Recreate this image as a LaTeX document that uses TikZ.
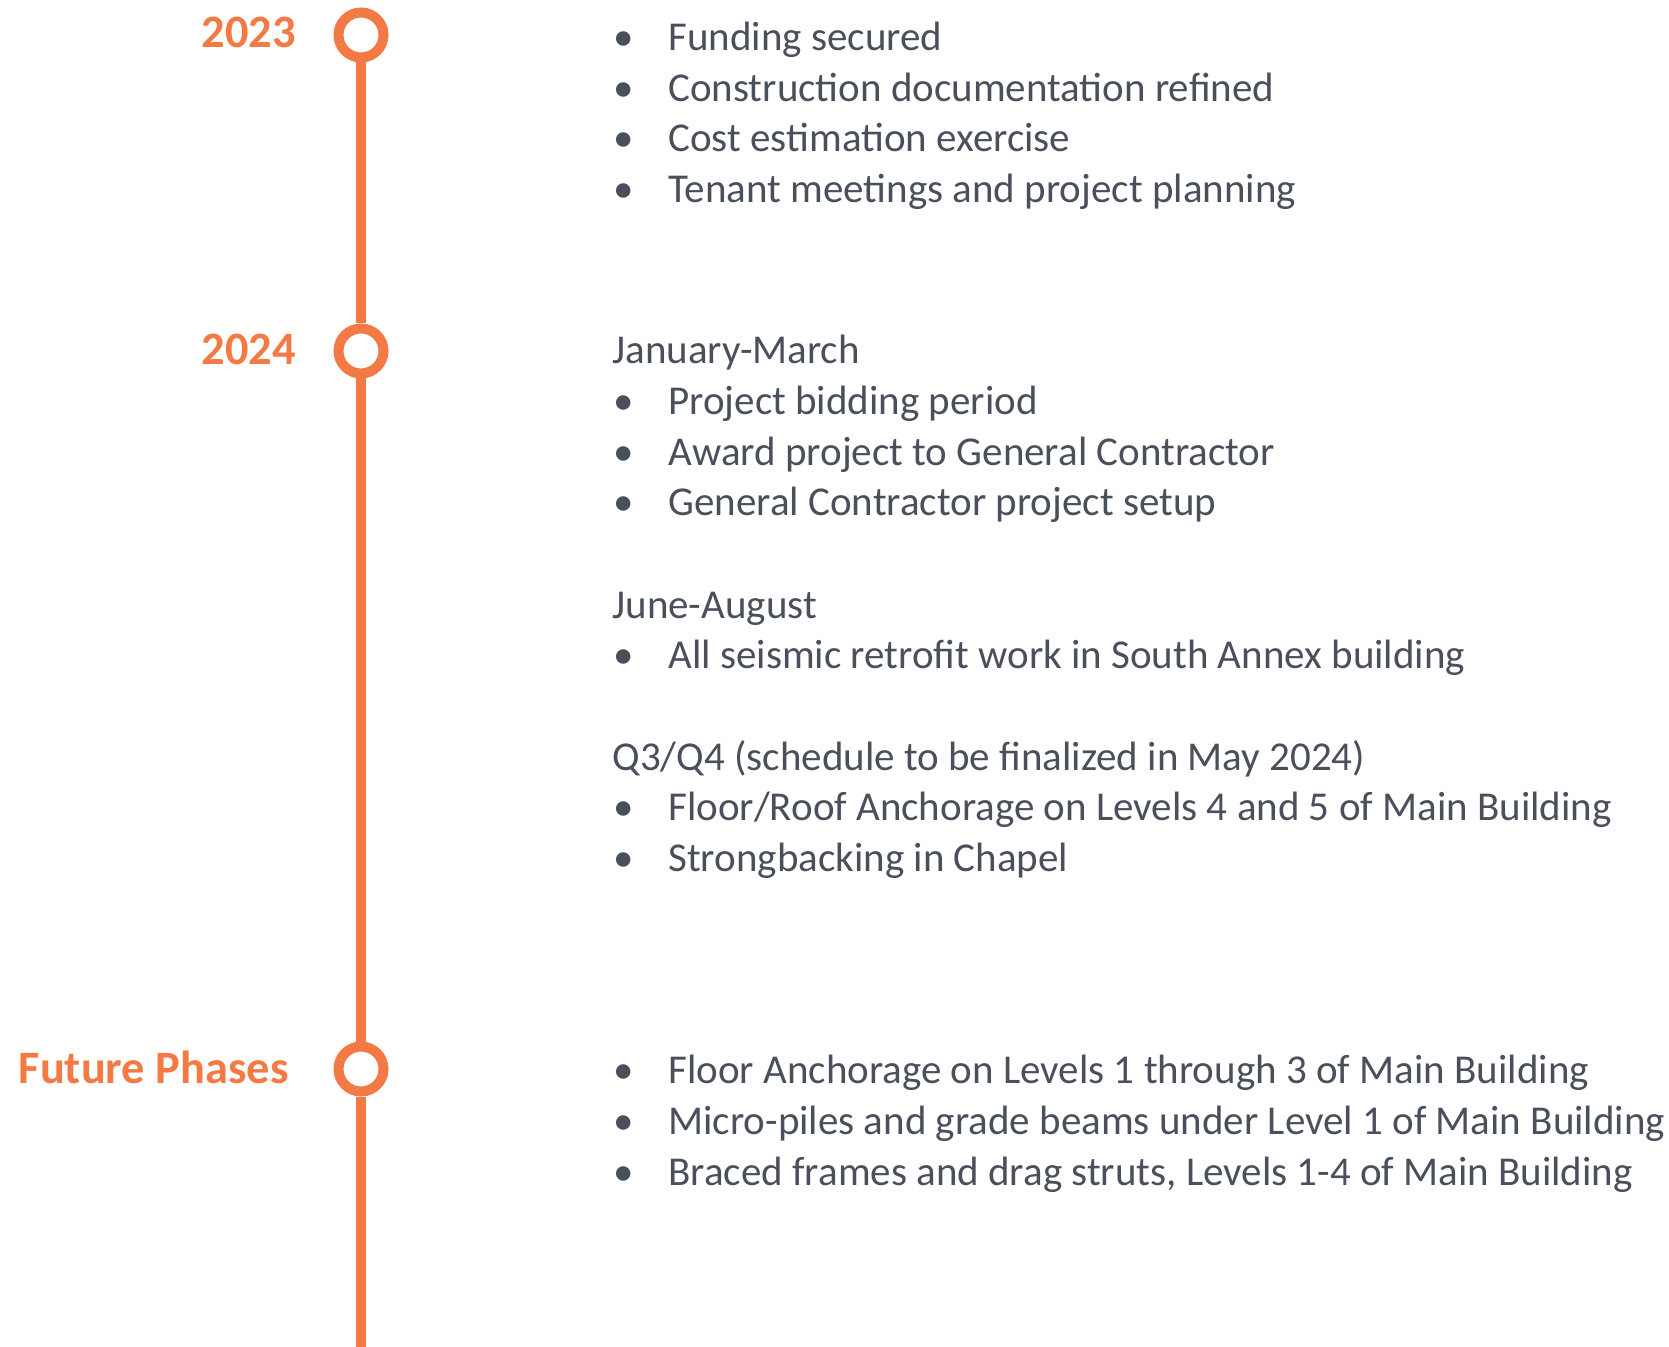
\documentclass[tikz,border=0pt]{standalone}
\usepackage{fontspec}
\setmainfont{Carlito}
\usetikzlibrary{positioning}
\definecolor{tlorange}{RGB}{243,122,69}
\definecolor{tlgray}{RGB}{74,80,91}
\tikzset{
	milestone/.style={circle, draw=tlorange, line width=5pt, fill=white,
		minimum size=22.5pt, inner sep=0pt},
	year/.style={anchor=base east, inner sep=0pt, text=tlorange,
		font=\fontsize{23.2}{27}\selectfont\bfseries},
	item/.style={anchor=base west, inner sep=0pt, text=tlgray,
		font=\fontsize{20.5}{24}\selectfont},
	dot/.style={item, anchor=base},
}

\begin{document}
\begin{tikzpicture}[x=0.5pt, y=-0.5pt,
	stem/.style={draw=tlorange, line width=4.75pt}]
	\useasboundingbox (0,0) rectangle (1669,1347);
	
	% milestones on the line
	\node[milestone] (M1) at (361,35){}; % 2023
	\node[milestone] (M2) at (361,351){}; % 2024
	\node[milestone] (M3) at (361,1069){}; % future
	\coordinate (End) at (361,1347);
	
	% timeline
	\draw[stem] (M1) -- (M2);
	\draw[stem] (M2) -- (M3);
	\draw[stem] (M3) -- (End);
	
	% year labels
	\node[year] (Y1) at (296,48) {2023};
	\node[year] (Y2) at (296,365) {2024};
	\node[year] (Y3) at (289,1083) {Future Phases};
	
	% 2023 items
	\foreach \y/\txt [count=\i] in {50.5/Funding secured,
		101.2/Construction documentation refined,
		151.9/Cost estimation exercise,
		202.5/Tenant meetings and project planning}
	{\node[dot] (a\i) at (624,\y) {•};
	 \node[item] (ta\i) at (668,\y) {\txt};}
	
	% 2024 headings
	\node[item] (H1) at (612,363.5) {January-March};
	\node[item] (H2) at (612,618.5) {June-August};
	\node[item] (H3) at (612,770.5) {Q3/Q4 (schedule to be finalized in May 2024)};
	
	% 2024 items
	\foreach \y/\txt [count=\i] in {414.3/Project bidding period,
		465.1/Award project to General Contractor,
		515.9/General Contractor project setup,
		668.5/All seismic retrofit work in South Annex building,
		820.5/{Floor/Roof Anchorage on Levels 4 and 5 of Main Building},
		871.5/Strongbacking in Chapel}
	{\node[dot] (b\i) at (624,\y) {•};
	 \node[item] (tb\i) at (668,\y) {\txt};}
	
	% future items
	\foreach \y/\txt [count=\i] in {1083.5/Floor Anchorage on Levels 1 through 3 of Main Building,
		1134.5/Micro-piles and grade beams under Level 1 of Main Building,
		1185.5/{Braced frames and drag struts, Levels 1-4 of Main Building}}
	{\node[dot] (c\i) at (624,\y) {•};
	 \node[item] (tc\i) at (668,\y) {\txt};}
	
\end{tikzpicture}
\end{document}
